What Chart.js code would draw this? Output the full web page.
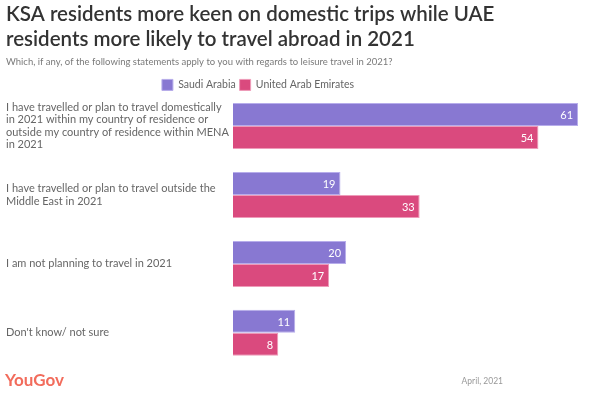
<!DOCTYPE html>
<html>
<head>
<meta charset="utf-8">
<script src="https://cdn.jsdelivr.net/npm/chart.js@4/dist/chart.umd.min.js"></script>
<style>
  html, body { margin: 0; padding: 0; background: #fff; }
  #wrap { width: 602px; height: 395px; position: relative; }
</style>
</head>
<body>
<div id="wrap"><canvas id="myChart" width="602" height="395"></canvas></div>
<script>
const categories = [
    ['I have travelled or plan to travel domestically', 'in 2021 within my country of residence or', 'outside my country of residence within MENA', 'in 2021'],
    ['I have travelled or plan to travel outside the', 'Middle East in 2021'],
    'I am not planning to travel in 2021',
    "Don't know/ not sure"
];
const saudiArabia = [61, 19, 20, 11];
const uae = [54, 33, 17, 8];

const saudiColor = '#8878d2';
const uaeColor = '#da4a7e';
const fontFamily = '"Lato", "Open Sans", sans-serif';

// white numbers at the end of each bar
const barValues = {
    id: 'barValues',
    afterDatasetsDraw(chart) {
        const ctx = chart.ctx;
        ctx.save();
        ctx.fillStyle = '#fff';
        ctx.font = '11px ' + fontFamily;
        ctx.textAlign = 'right';
        ctx.textBaseline = 'middle';
        chart.data.datasets.forEach((ds, i) => {
            chart.getDatasetMeta(i).data.forEach((bar, j) => {
                ctx.fillText(ds.data[j], bar.x - 5, bar.y + 1);
            });
        });
        ctx.restore();
    }
};

// legend sits left of the page centre and takes less room below it
const legendTweak = {
    id: 'legendTweak',
    beforeLayout(chart) {
        const legend = chart.legend;
        if (legend && !legend._trimmed) {
            const fit = legend.fit;
            legend.fit = function() { fit.call(this); this.height -= 9; };
            legend._trimmed = true;
        }
    },
    beforeDraw(chart) {
        chart.legend.right = 510;
    }
};

// logo and date at the bottom
const footer = {
    id: 'footer',
    afterDraw(chart) {
        const ctx = chart.ctx;
        ctx.save();
        ctx.textBaseline = 'middle';
        ctx.fillStyle = '#f26c5c';
        ctx.font = 'bold 17px ' + fontFamily;
        ctx.textAlign = 'left';
        ctx.fillText('YouGov', 5, 381);
        ctx.fillStyle = '#999';
        ctx.font = '8.5px ' + fontFamily;
        ctx.textAlign = 'right';
        ctx.fillText('April, 2021', 503, 381);
        ctx.restore();
    }
};

const config = {
    type: 'bar',
    data: {
        labels: categories,
        datasets: [
            {
                label: 'Saudi Arabia',
                data: saudiArabia,
                backgroundColor: saudiColor,
                borderColor: '#b7adeb',
                borderWidth: 1,
                borderSkipped: 'left'
            },
            {
                label: 'United Arab Emirates',
                data: uae,
                backgroundColor: uaeColor,
                borderColor: '#ee9bb9',
                borderWidth: 1,
                borderSkipped: 'left'
            }
        ]
    },
    options: {
        indexAxis: 'y',
        responsive: false,
        animation: false,
        barPercentage: 1,
        categoryPercentage: 0.667,
        layout: {
            padding: { left: 6, right: 7, top: 2, bottom: 27.5 }
        },
        plugins: {
            title: {
                display: true,
                align: 'start',
                text: ['KSA residents more keen on domestic trips while UAE', 'residents more likely to travel abroad in 2021'],
                color: '#333',
                font: { size: 20.5, weight: 600, family: fontFamily, lineHeight: 1.22 },
                padding: { top: 0, bottom: 4 }
            },
            subtitle: {
                display: true,
                align: 'start',
                text: 'Which, if any, of the following statements apply to you with regards to leisure travel in 2021?',
                color: '#7a7a7a',
                font: { size: 9.5, family: fontFamily },
                padding: { top: 0, bottom: 8 }
            },
            legend: {
                position: 'top',
                labels: {
                    boxWidth: 11,
                    boxHeight: 11,
                    color: '#666',
                    font: { size: 10.5, family: fontFamily },
                    padding: 4
                }
            },
            tooltip: { enabled: false }
        },
        scales: {
            x: {
                display: false,
                min: 0,
                max: 64
            },
            y: {
                grid: { display: false },
                border: { display: false },
                afterFit(scale) { scale.width = 227; },
                ticks: {
                    crossAlign: 'far',
                    color: '#666',
                    font: { size: 11, family: fontFamily, lineHeight: 1.12 }
                }
            }
        }
    },
    plugins: [barValues, legendTweak, footer]
};

var myChart = new Chart(document.getElementById('myChart'), config);
</script>
</body>
</html>
